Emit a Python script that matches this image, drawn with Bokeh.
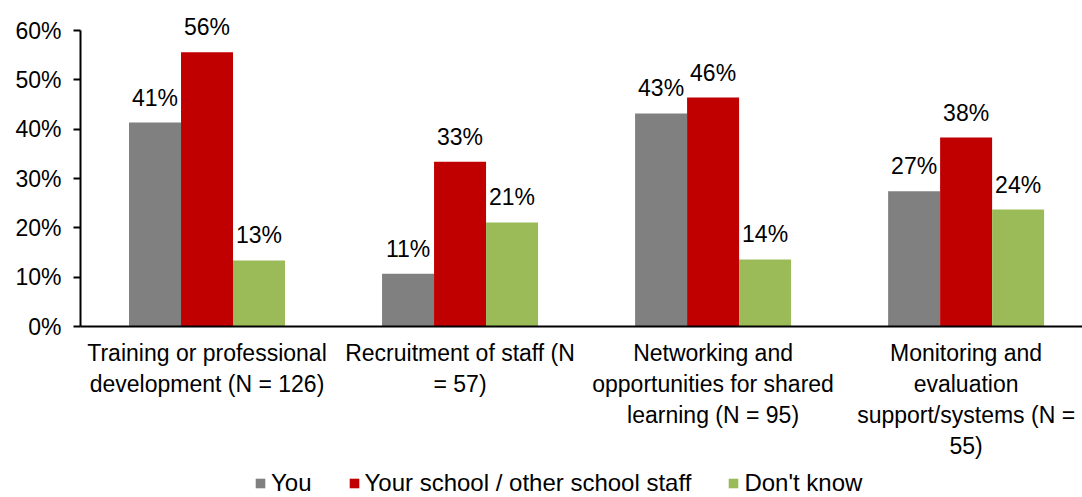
from bokeh.plotting import figure
from bokeh.layouts import column
from bokeh.models import ColumnDataSource, Range1d, FixedTicker, PrintfTickFormatter, Legend, LegendItem
from bokeh.embed import file_html
from bokeh.resources import INLINE
from bokeh.core.properties import value

categories = [
    "Training or professional\ndevelopment (N = 126)",
    "Recruitment of staff (N\n= 57)",
    "Networking and\nopportunities for shared\nlearning (N = 95)",
    "Monitoring and\nevaluation\nsupport/systems (N =\n55)",
]
series_names = ["You", "Your school / other school staff", "Don't know"]
you = [41.35, 10.7, 43.2, 27.4]
school = [55.6, 33.4, 46.4, 38.3]
dont_know = [13.4, 21.1, 13.6, 23.7]
colors = ["#808080", "#C00000", "#9BBB59"]

FONT = "Liberation Sans"
FS = "23px"

centers = [i + 0.5 for i in range(len(categories))]
bw = 0.2055
offsets = [-bw, 0.0, bw]

p = figure(width=1082, height=465, output_backend="svg", toolbar_location=None,
           x_range=Range1d(0, 3.96), y_range=Range1d(0, 64.06),
           min_border_left=80, min_border_right=0, min_border_top=10, min_border_bottom=139)
p.outline_line_color = None
p.xgrid.grid_line_color = None
p.ygrid.grid_line_color = None

# legend strip underneath
lg = figure(width=1082, height=32, output_backend="svg", toolbar_location=None,
            x_range=Range1d(0, 1), y_range=Range1d(1000, 1001),
            x_axis_location=None, y_axis_location=None,
            min_border_left=0, min_border_right=0, min_border_top=0, min_border_bottom=0)
lg.outline_line_color = None
lg.xgrid.grid_line_color = None
lg.ygrid.grid_line_color = None

legend_renderers = []
for vals, off, col in zip([you, school, dont_know], offsets, colors):
    src = ColumnDataSource(dict(x=[c + off for c in centers], top=vals,
                                lab=[f"{round(v)}%" for v in vals]))
    p.vbar(x="x", top="top", width=bw, bottom=0, source=src,
           fill_color=col, line_color=None)
    p.text(x="x", y="top", text="lab", source=src, text_align="center",
           text_baseline="alphabetic", y_offset=-25, text_font=value(FONT),
           text_font_size=FS, text_color="#000000")
    legend_renderers.append(lg.vbar(x="x", top="top", width=bw, bottom=0, source=src,
                                    fill_color=col, line_color=None))

# axes
p.xaxis.ticker = FixedTicker(ticks=centers)
p.xaxis.major_label_overrides = {c: lab for c, lab in zip(centers, categories)}
p.xaxis.major_tick_out = 0
p.xaxis.major_tick_in = 0
p.xaxis.minor_tick_out = 0
p.xaxis.minor_tick_in = 0
p.xaxis.axis_line_color = "#000000"
p.xaxis.axis_line_width = 2
p.xaxis.major_label_text_font = FONT
p.xaxis.major_label_text_font_size = FS
p.xaxis.major_label_text_color = "#000000"
p.xaxis.major_label_standoff = 13

p.yaxis.ticker = FixedTicker(ticks=[0, 10, 20, 30, 40, 50, 60])
p.yaxis.bounds = (0, 60)
p.yaxis.formatter = PrintfTickFormatter(format="%d%%")
p.yaxis.major_tick_out = 7
p.yaxis.major_tick_in = 0
p.yaxis.minor_tick_out = 0
p.yaxis.minor_tick_in = 0
p.yaxis.axis_line_color = "#000000"
p.yaxis.axis_line_width = 2
p.yaxis.major_tick_line_width = 2
p.yaxis.major_tick_line_color = "#000000"
p.yaxis.major_label_text_font = FONT
p.yaxis.major_label_text_font_size = FS
p.yaxis.major_label_text_color = "#000000"
p.yaxis.major_label_standoff = 12

legend = Legend(items=[LegendItem(label=n, renderers=[r]) for n, r in zip(series_names, legend_renderers)],
                orientation="horizontal", location=(174, 0),
                glyph_width=12, glyph_height=12, label_standoff=5, spacing=36,
                padding=0, margin=0, border_line_color=None, background_fill_alpha=0,
                label_text_font=FONT, label_text_font_size="24px", label_text_color="#000000")
lg.add_layout(legend, "center")

layout = column(p, lg, spacing=0)
open("out.html", "w").write(file_html(layout, INLINE))
